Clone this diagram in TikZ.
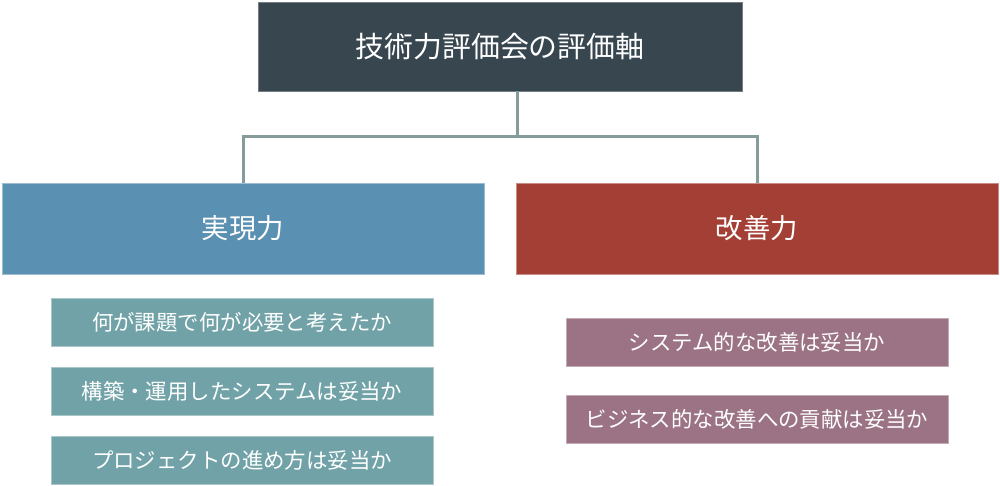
\documentclass[tikz,border=0pt]{standalone}
\usepackage{fontspec}
\setmainfont{Noto Sans CJK JP}
\usetikzlibrary{positioning}
\definecolor{axisdark}{HTML}{384650}
\definecolor{realblue}{HTML}{5A90B2}
\definecolor{improvered}{HTML}{A43F35}
\definecolor{itemteal}{HTML}{71A2A7}
\definecolor{itemmauve}{HTML}{9B7384}
\definecolor{linkgray}{HTML}{869C9C}

\begin{document}
\begin{tikzpicture}[x=1bp,y=-1bp,
    box/.style={rectangle,inner sep=0pt,text=white,line width=0.8bp},
    headbox/.style={box,fill=axisdark,draw=axisdark!70!white,minimum width=484bp,minimum height=89bp,font=\fontsize{29}{33}\selectfont},
    mainbox/.style={box,minimum width=482bp,minimum height=91bp,font=\fontsize{27.5}{31}\selectfont},
    itembox/.style={box,minimum width=382bp,minimum height=48bp,font=\fontsize{21.5}{25}\selectfont},
    link/.style={draw=linkgray,line width=3bp}]
                 \useasboundingbox (0,0) rectangle (1000,486);
                 \node[headbox] (axis) at (500,46.5) {技術力評価会の評価軸};
                 \node[mainbox,fill=realblue,draw=realblue!60!white] (real) at (243,228.5) {実現力};
                 \node[mainbox,fill=improvered,draw=improvered!60!white] (improve) at (757,228.5) {改善力};
                 \node[itembox,fill=itemteal,draw=itemteal!60!white] (realA) at (242,322) {何が課題で何が必要と考えたか};
                 \node[itembox,fill=itemteal,draw=itemteal!60!white] (realB) at (242,391) {構築・運用したシステムは妥当か};
                 \node[itembox,fill=itemteal,draw=itemteal!60!white] (realC) at (242,460) {プロジェクトの進め方は妥当か};
                 \node[itembox,fill=itemmauve,draw=itemmauve!60!white] (improveA) at (757,342) {システム的な改善は妥当か};
                 \node[itembox,fill=itemmauve,draw=itemmauve!60!white] (improveB) at (757,419) {ビジネス的な改善への貢献は妥当か};
                 \coordinate (hub) at (517,137);
                 \draw[link] (hub |- axis.south) -- (hub);
                 \draw[link] (real.north) |- (hub) -| (improve.north);
            \end{tikzpicture}
\end{document}
